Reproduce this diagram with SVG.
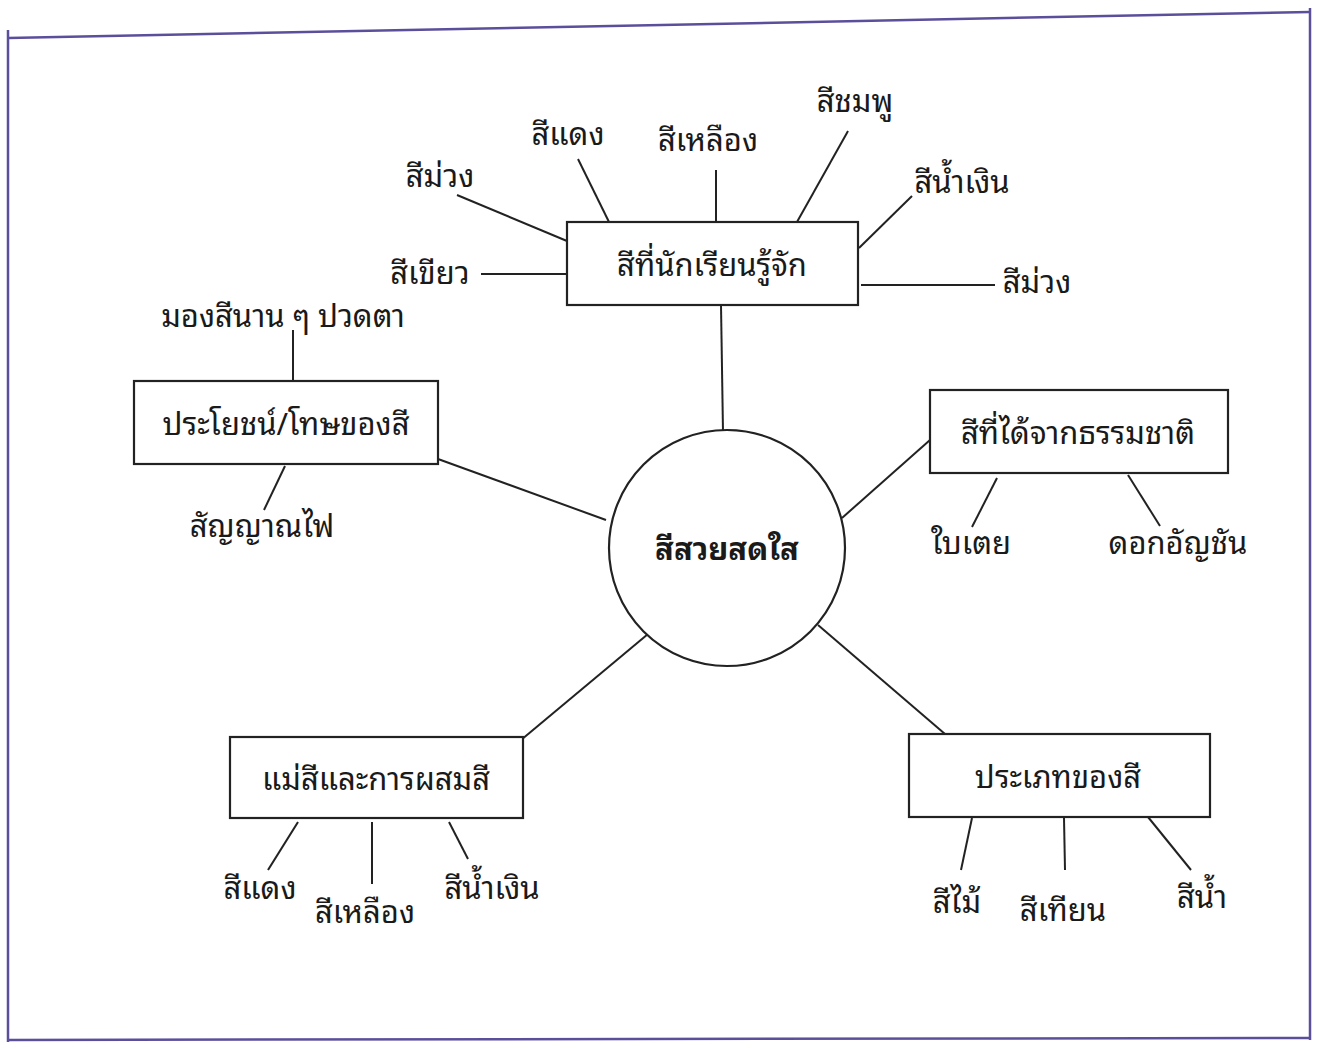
<svg xmlns="http://www.w3.org/2000/svg" width="1330" height="1048" viewBox="0 0 1330 1048">
<style>
.frame{stroke:#5b4f9c;stroke-width:2.5;fill:none}
.box{fill:#fff;stroke:#222;stroke-width:2.2}
.ln{stroke:#222;stroke-width:2;fill:none}
text{font-family:"Noto Sans Thai Looped","Noto Serif Thai","Norasi","Loma","Garuda","Kinnari","Sawasdee","Noto Sans Thai","DejaVu Sans",sans-serif;fill:#1a1a1a;text-anchor:middle}
.lbl{font-size:31px}
.bx{font-size:31px}
.ctr{font-size:31px;font-weight:bold}
</style>
<rect width="1330" height="1048" fill="#fff"/>
<g id="frame">
<path class="frame" d="M8 38 L1310 12"/>
<path class="frame" d="M8 30 L8 1042"/>
<path class="frame" d="M1310 8 L1310 1040"/>
<path class="frame" d="M8 1040 L1310 1038"/>
</g>
<g id="connectors">
<path class="ln" d="M721 305 L723 432"/>
<path class="ln" d="M438 459 L606 520"/>
<path class="ln" d="M930 440 L842 518"/>
<path class="ln" d="M648 634 L521 740"/>
<path class="ln" d="M818 625 L945 734"/>
<path class="ln" d="M457 195 L567 241"/>
<path class="ln" d="M578 159 L609 222"/>
<path class="ln" d="M716 170 L716 222"/>
<path class="ln" d="M848 131 L797 222"/>
<path class="ln" d="M912 196 L859 248"/>
<path class="ln" d="M481 274 L567 274"/>
<path class="ln" d="M861 285 L995 285"/>
<path class="ln" d="M293 330 L293 381"/>
<path class="ln" d="M285 466 L264 510"/>
<path class="ln" d="M997 478 L972 527"/>
<path class="ln" d="M1128 475 L1160 526"/>
<path class="ln" d="M298 822 L268 870"/>
<path class="ln" d="M372 822 L372 884"/>
<path class="ln" d="M449 822 L468 859"/>
<path class="ln" d="M972 818 L961 870"/>
<path class="ln" d="M1064 818 L1065 870"/>
<path class="ln" d="M1148 817 L1191 870"/>
</g>
<g id="center">
<circle cx="727" cy="548" r="118" class="box"/>
<text class="ctr" x="727" y="560">สีสวยสดใส</text>
</g>
<g id="known">
<rect class="box" x="567" y="222" width="291" height="83"/>
<text class="bx" x="712" y="276">สีที่นักเรียนรู้จัก</text>
</g>
<g id="known-leaves">
<text class="lbl" x="440" y="187">สีม่วง</text>
<text class="lbl" x="568" y="145">สีแดง</text>
<text class="lbl" x="708" y="151">สีเหลือง</text>
<text class="lbl" x="855" y="112">สีชมพู</text>
<text class="lbl" x="962" y="193">สีน้ำเงิน</text>
<text class="lbl" x="430" y="284">สีเขียว</text>
<text class="lbl" x="1037" y="293">สีม่วง</text>
</g>
<g id="benefit">
<rect class="box" x="134" y="381" width="304" height="83"/>
<text class="bx" x="286" y="435">ประโยชน์/โทษของสี</text>
<text class="lbl" x="283" y="327">มองสีนาน ๆ ปวดตา</text>
<text class="lbl" x="262" y="537">สัญญาณไฟ</text>
</g>
<g id="nature">
<rect class="box" x="930" y="390" width="298" height="83"/>
<text class="bx" x="1078" y="444">สีที่ได้จากธรรมชาติ</text>
<text class="lbl" x="971" y="554">ใบเตย</text>
<text class="lbl" x="1178" y="554">ดอกอัญชัน</text>
</g>
<g id="primary">
<rect class="box" x="230" y="737" width="293" height="81"/>
<text class="bx" x="376" y="790">แม่สีและการผสมสี</text>
<text class="lbl" x="260" y="899">สีแดง</text>
<text class="lbl" x="365" y="923">สีเหลือง</text>
<text class="lbl" x="492" y="899">สีน้ำเงิน</text>
</g>
<g id="types">
<rect class="box" x="909" y="734" width="301" height="83"/>
<text class="bx" x="1058" y="788">ประเภทของสี</text>
<text class="lbl" x="957" y="913">สีไม้</text>
<text class="lbl" x="1063" y="921">สีเทียน</text>
<text class="lbl" x="1202" y="908">สีน้ำ</text>
</g>
</svg>
